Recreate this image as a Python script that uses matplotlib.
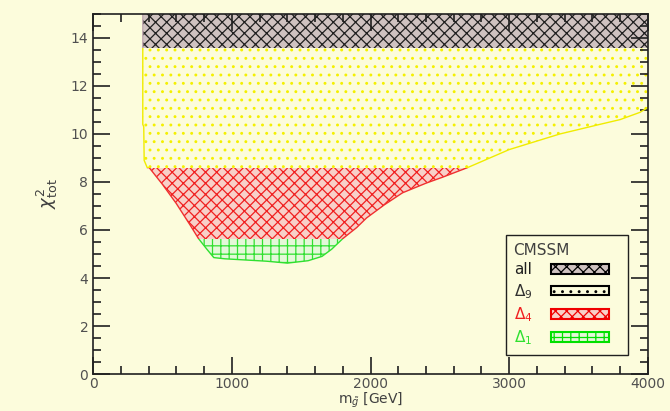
import matplotlib.pyplot as plt
from matplotlib.patches import Rectangle, Patch
import numpy as np

plt.rcParams['font.family'] = ['DejaVu Sans']
plt.rcParams['hatch.linewidth'] = 0.9

# left edge of the scanned region (top to bottom)
left_x = [358, 358, 365, 368, 390]
left_y = [15.0, 10.4, 10.3, 8.9, 8.6]
# lower boundary: minimal chi2 reached vs gluino mass
edge_x = [404, 500, 600, 700, 760, 820, 870, 950, 1100, 1250, 1400, 1550, 1650,
          1720, 1800, 1900, 1971, 2100, 2231, 2400, 2520, 2700, 3000, 3365,
          3653, 3800, 3942, 4000]
edge_y = [8.6, 7.9, 7.1, 6.2, 5.64, 5.2, 4.85, 4.8, 4.75, 4.7, 4.62, 4.72, 4.9,
          5.2, 5.64, 6.1, 6.5, 7.05, 7.55, 7.95, 8.2, 8.6, 9.35, 10.0,
          10.4, 10.6, 10.9, 11.1]

# chi2 levels separating the bands
lvl_all = 13.6
lvl_d9 = 8.6
lvl_d4 = 5.64

bands = [
    # (lo, hi, face, hatch colour, hatch, line colour, label, label colour)
    (lvl_all, 15.0, '#cfc2c0', '#202020', 'xxx', '#c0a8b0', 'all', '#202020'),
    (lvl_d9, lvl_all, '#fcfcdc', '#f4f000', '..', '#f0ec00', r'$\Delta_9$', '#303030'),
    (lvl_d4, lvl_d9, '#f8d0c8', '#f02020', 'xxx', '#f03030', r'$\Delta_4$', '#f02020'),
    (0, lvl_d4, '#e4f8d8', '#30e030', '++', '#30e030', r'$\Delta_1$', '#30e030'),
]

bg = '#fcfcdc'
fig = plt.figure(figsize=(6.7, 4.11), dpi=100, facecolor=bg)
ax = fig.add_axes([0.139, 0.090, 0.828, 0.876])
ax.set_facecolor(bg)

poly_x = left_x + edge_x + [4000]
poly_y = left_y + edge_y + [15.0]
handles = []
for lo, hi, face, hc, hatch, lc, lab, tc in bands:
    clip = Rectangle((0, lo), 4000, hi - lo, transform=ax.transData)
    p = ax.fill(poly_x, poly_y, facecolor=face, edgecolor=hc, hatch=hatch, linewidth=0)[0]
    p.set_clip_path(clip)
    ln = ax.plot(poly_x[:-1], poly_y[:-1], color=lc, lw=1.0)[0]
    ln.set_clip_path(clip)
    handles.append(Patch(facecolor=face, edgecolor=hc, hatch=hatch, linewidth=1.5))

# frame colours of legend swatches
frame_cols = ['#000000', '#000000', '#f00000', '#00e000']
for h, c in zip(handles, frame_cols):
    h.set_edgecolor(c)

ax.set_xlim(0, 4000)
ax.set_ylim(0, 15)
ax.set_xticks(np.arange(0, 4001, 1000))
ax.set_xticks(np.arange(0, 4001, 200), minor=True)
ax.set_yticks(np.arange(0, 15, 2))
ax.set_yticks(np.arange(0, 15.01, 0.5), minor=True)
ax.tick_params(which='both', direction='in', top=True, right=True, colors='#202020',
               labelcolor='#505050', labelsize=10, width=1.2)
ax.tick_params(which='major', length=12)
ax.tick_params(which='minor', length=6)
ax.tick_params(axis='x', pad=2)
for s in ax.spines.values():
    s.set_linewidth(1.2)
    s.set_color('#202020')

ax.set_xlabel(r'm$_{\tilde{g}}$ [GeV]', fontsize=10, color='#404040', labelpad=0)
ax.set_ylabel(r'$\chi^2_{\rm tot}$', fontsize=13, color='#404040', labelpad=8)

leg = ax.legend(handles, [b[6] for b in bands], title='CMSSM', loc='lower left',
                bbox_to_anchor=(0.744, 0.053, 0.22, 0.316), mode='expand',
                borderaxespad=0, markerfirst=False, fontsize=11, title_fontsize=11,
                handlelength=3.8, handleheight=0.6, handletextpad=1.2,
                alignment='left', fancybox=False, framealpha=1, facecolor=bg,
                edgecolor='#202020', borderpad=0.5, labelspacing=0.3)
leg.get_frame().set_linewidth(1.0)
leg.get_title().set_color('#404040')
for t, b in zip(leg.get_texts(), bands):
    t.set_color(b[7])

fig.savefig('out.png', dpi=100, facecolor=bg)
